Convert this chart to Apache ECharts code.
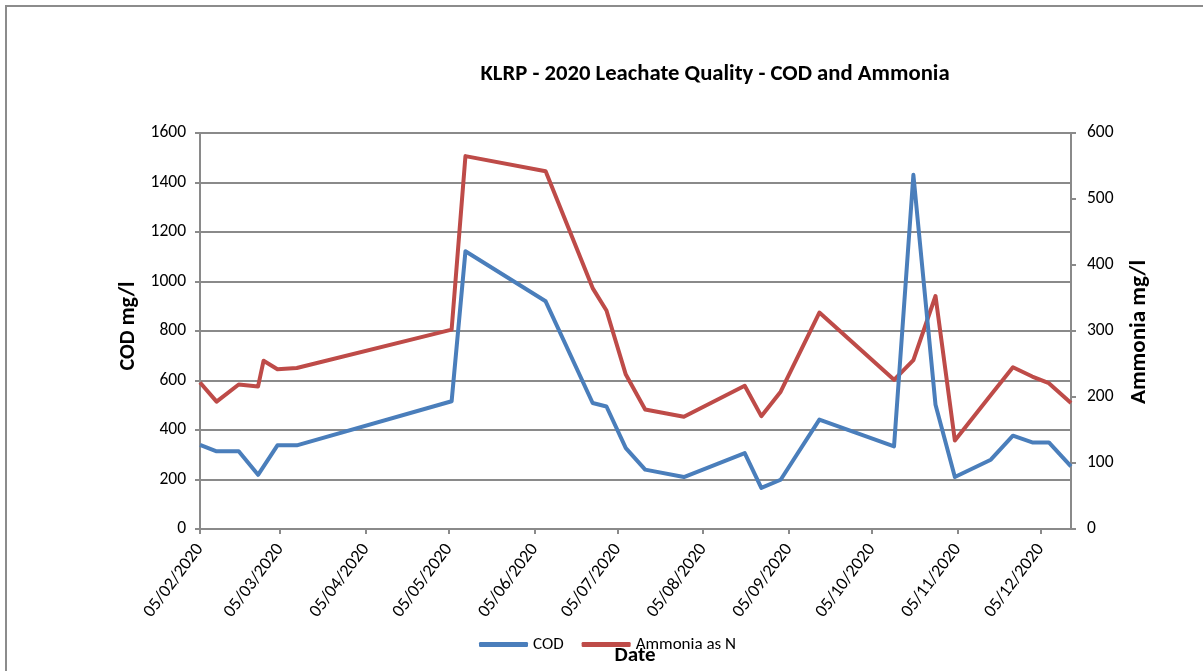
<!DOCTYPE html>
<html>
<head>
<meta charset="utf-8">
<title>KLRP - 2020 Leachate Quality - COD and Ammonia</title>
<script src="https://cdn.jsdelivr.net/npm/echarts@6/dist/echarts.min.js"></script>
<style>
  html, body { margin: 0; padding: 0; background: #ffffff; }
  #chart { width: 1203px; height: 671px; }
</style>
</head>
<body>
<div id="chart"></div>
<script>
// Sampling dates and measured values (2020)
const codDates = ['2020-02-05','2020-02-11','2020-02-19','2020-02-26','2020-03-04','2020-03-11',
  '2020-05-06','2020-05-11','2020-06-09','2020-06-26','2020-07-01','2020-07-08','2020-07-15',
  '2020-07-29','2020-08-20','2020-08-26','2020-09-02','2020-09-16','2020-10-13','2020-10-20',
  '2020-10-28','2020-11-04','2020-11-17','2020-11-25','2020-12-02','2020-12-08','2020-12-16'];
const codValues = [340, 314, 314, 219, 338, 338,
  516, 1122, 920, 509, 495, 327, 240,
  210, 307, 166, 199, 442, 334, 1431,
  502, 210, 280, 377, 350, 350, 253];

const ammoniaDates = ['2020-02-05','2020-02-11','2020-02-19','2020-02-26','2020-02-28','2020-03-04','2020-03-11',
  '2020-05-06','2020-05-11','2020-06-09','2020-06-26','2020-07-01','2020-07-08','2020-07-15',
  '2020-07-29','2020-08-20','2020-08-26','2020-09-02','2020-09-16','2020-10-13','2020-10-20',
  '2020-10-28','2020-11-04','2020-11-17','2020-11-25','2020-12-02','2020-12-08','2020-12-16'];
const ammoniaValues = [222, 193, 219, 216, 255, 242, 244,
  302, 565, 542, 365, 331, 234, 181,
  170, 217, 171, 208, 328, 226, 256,
  353, 134, 203, 245, 231, 221, 191];

// Date axis range and monthly tick dates (the 5th of each month)
const xStart = '2020-02-05';
const xEnd = '2020-12-16';
const tickDates = ['2020-02-05','2020-03-05','2020-04-05','2020-05-05','2020-06-05','2020-07-05',
  '2020-08-05','2020-09-05','2020-10-05','2020-11-05','2020-12-05'];

const codTicks = { min: 0, max: 1600, interval: 200 };
const ammoniaTicks = { min: 0, max: 600, interval: 100 };

const FONT = "Carlito, 'Open Sans', 'Noto Sans', sans-serif";
const GRID_GREY = '#8a8a8a';

// 'YYYY-MM-DD' -> UTC timestamp
const toTime = s => {
  const [y, m, d] = s.split('-').map(Number);
  return Date.UTC(y, m - 1, d);
};
const pad = n => (n < 10 ? '0' + n : '' + n);
const fmtDate = v => {
  const d = new Date(Math.round(v));
  return pad(d.getUTCDate()) + '/' + pad(d.getUTCMonth() + 1) + '/' + d.getUTCFullYear();
};
const monthTicks = tickDates.map(toTime);

const chart = echarts.init(document.getElementById('chart'), null, { renderer: 'canvas' });

chart.setOption({
  backgroundColor: '#ffffff',
  animation: false,
  title: {
    text: 'KLRP - 2020 Leachate Quality - COD and Ammonia',
    left: 710,
    top: 58,
    textAlign: 'center',
    textStyle: { fontFamily: FONT, fontSize: 22.7, fontWeight: 'bold', color: '#000' }
  },
  legend: {
    left: 474,
    top: 631,
    itemWidth: 49,
    itemHeight: 5,
    itemGap: 18,
    icon: 'roundRect',
    textStyle: { fontFamily: FONT, fontSize: 17, color: '#000' },
    data: ['COD', 'Ammonia as N']
  },
  grid: { left: 200, right: 132, top: 133, bottom: 142, containLabel: false },
  xAxis: {
    type: 'value',
    min: toTime(xStart),
    max: toTime(xEnd),
    axisLine: { show: true, onZero: false, lineStyle: { color: GRID_GREY, width: 2 } },
    axisTick: { show: true, length: 5, lineStyle: { color: GRID_GREY, width: 2 }, customValues: monthTicks },
    axisLabel: {
      customValues: monthTicks,
      rotate: 53,
      margin: 17,
      fontFamily: FONT,
      fontSize: 18,
      color: '#000',
      formatter: fmtDate
    },
    splitLine: { show: false }
  },
  yAxis: [
    {
      type: 'value',
      min: codTicks.min, max: codTicks.max, interval: codTicks.interval,
      position: 'left',
      axisLine: { show: true, lineStyle: { color: GRID_GREY, width: 2 } },
      axisTick: { show: true, inside: false, length: 5, lineStyle: { color: GRID_GREY, width: 2 } },
      axisLabel: { margin: 14, fontFamily: FONT, fontSize: 17.5, color: '#000', formatter: v => String(v) },
      splitLine: { show: true, lineStyle: { color: GRID_GREY, width: 2 } }
    },
    {
      type: 'value',
      min: ammoniaTicks.min, max: ammoniaTicks.max, interval: ammoniaTicks.interval,
      position: 'right',
      axisLine: { show: true, lineStyle: { color: GRID_GREY, width: 2 } },
      axisTick: { show: true, inside: false, length: 5, lineStyle: { color: GRID_GREY, width: 2 } },
      axisLabel: { margin: 16, fontFamily: FONT, fontSize: 17.5, color: '#000', formatter: v => String(v) },
      splitLine: { show: false }
    }
  ],
  graphic: [
    // chart frame
    { type: 'rect', shape: { x: 6, y: 6, width: 1300, height: 800 },
      style: { fill: 'none', stroke: '#8c8c8c', lineWidth: 2 }, silent: true },
    { type: 'text', x: 128, y: 326, rotation: Math.PI / 2,
      style: { text: 'COD mg/l', fontFamily: FONT, fontSize: 22, fontWeight: 'bold',
               fill: '#000', align: 'center', verticalAlign: 'middle' } },
    { type: 'text', x: 1139, y: 332, rotation: Math.PI / 2,
      style: { text: 'Ammonia mg/l', fontFamily: FONT, fontSize: 23, fontWeight: 'bold',
               fill: '#000', align: 'center', verticalAlign: 'middle' } },
    { type: 'text', x: 635, y: 656,
      style: { text: 'Date', fontFamily: FONT, fontSize: 21, fontWeight: 'bold',
               fill: '#000', align: 'center', verticalAlign: 'middle' } }
  ],
  series: [
    {
      name: 'COD',
      type: 'line',
      yAxisIndex: 0,
      symbol: 'none',
      lineStyle: { color: '#4a7ebb', width: 4, join: 'round' },
      itemStyle: { color: '#4a7ebb' },
      data: codDates.map((d, i) => [toTime(d), codValues[i]]),
      z: 3
    },
    {
      name: 'Ammonia as N',
      type: 'line',
      yAxisIndex: 1,
      symbol: 'none',
      lineStyle: { color: '#be4b48', width: 4, join: 'round' },
      itemStyle: { color: '#be4b48' },
      data: ammoniaDates.map((d, i) => [toTime(d), ammoniaValues[i]]),
      z: 2
    }
  ]
});
</script>
</body>
</html>
